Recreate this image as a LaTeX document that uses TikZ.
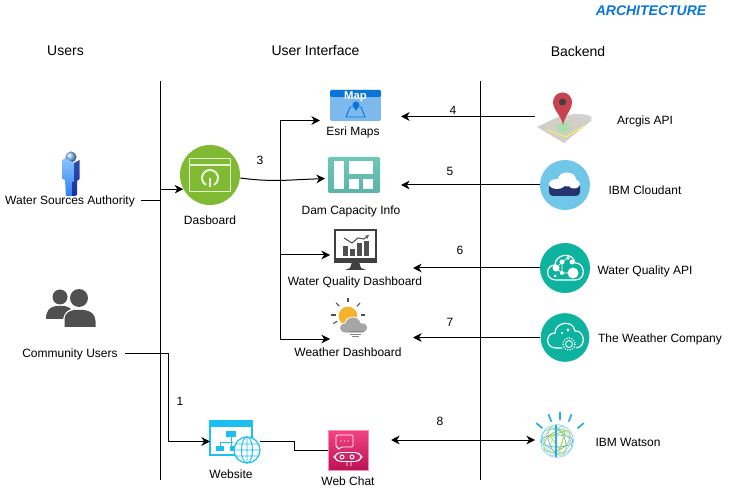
\documentclass[tikz,border=0pt]{standalone}
\usepackage{fontspec}
\setmainfont{Liberation Sans}
\usetikzlibrary{arrows.meta}
\usetikzlibrary{calc}
\definecolor{wqgreen}{HTML}{0DB39E}
\definecolor{dashgreen}{HTML}{7FBA32}
\definecolor{sitecyan}{HTML}{1CBFEF}
\definecolor{mapblue}{HTML}{0A75D8}
\definecolor{maplight}{HTML}{7DB9EC}
\definecolor{damteal}{HTML}{6FC7B8}
\definecolor{damdark}{HTML}{5BB5A6}
\definecolor{icongrey}{HTML}{505050}
\definecolor{cloudsky}{HTML}{71C7E8}
\definecolor{cloudnavy}{HTML}{25346F}
\definecolor{chattop}{HTML}{F34482}
\definecolor{chatbot}{HTML}{BC1356}
\definecolor{pinred}{HTML}{C8434F}
\definecolor{sunyellow}{HTML}{F5B32B}
\definecolor{watsonblue}{HTML}{2AAEE0}
\definecolor{watsongreen}{HTML}{7DBB6A}
\definecolor{facelight}{HTML}{8CC4FF}
\definecolor{facemid}{HTML}{2E7DF0}
\definecolor{sidedark}{HTML}{2A4FB0}
\definecolor{sidedeep}{HTML}{1A2F9A}
\tikzset{
  lbl/.style={font=\fontsize{9}{11}\selectfont,inner sep=0pt,text height=6.5pt,text depth=2pt,yshift=-1.5pt},
  head/.style={font=\fontsize{10.5}{12}\selectfont,inner sep=0pt},
  link/.style={line width=0.75pt},
  flow/.style={line width=0.75pt,-{Stealth[length=6.5pt,width=6.5pt]}},
  cloudline/.pic={\draw[white,line width=0.9pt] (-9,12) .. controls (-20,12) and (-20,-3) .. (-10,-3) .. controls (-10,-14) and (8,-17) .. (10,-5) .. controls (20,-6) and (22,12) .. (10,12) -- cycle;}
}
\begin{document}
\begin{tikzpicture}[x=0.75pt,y=-0.75pt]
\useasboundingbox (0,0) rectangle (731,491);
\draw [line width=0.75pt] (160.5,81) -- (160.5,480);
\draw [line width=0.75pt] (480.5,81) -- (480.5,480);
\node [font=\fontsize{10.5}{12}\selectfont\bfseries\itshape,text=mapblue,inner sep=0pt] (title) at (651,11) {ARCHITECTURE};
\node [head] (users) at (65.5,51) {Users};
\node [head] (ui) at (315.5,51) {User Interface};
\node [head] (backend) at (578,51) {Backend};
%
% users
\shade [ball color=facelight] (71,157) circle (5.5);
\shade [top color=facelight,bottom color=facemid] (62.5,160) -- (65,158) -- (74,163) -- (74,182) -- (72,182) -- (72,197) -- (66,197) -- (65,180) -- (62.5,179) -- cycle;
\shade [top color=sidedark,bottom color=sidedeep] (74,163) -- (79.5,160) -- (79.5,179) -- (77,181) -- (77,195) -- (72,197) -- (72,182) -- (74,182) -- cycle;
\node [lbl,fill=white] (authority) at (70,200) {Water Sources Authority};
\node [lbl] (community) at (70,353) {Community Users};
\fill [icongrey] (60,297) circle (7.5);
\fill [icongrey] (46,319) .. controls (46,310) and (50,307) .. (56,306) -- (65,306) .. controls (68,307) and (70,308) .. (71,309) .. controls (66,311) and (64,314) .. (63,319) -- cycle;
\fill [icongrey] (79,298) circle (9);
\fill [icongrey] (64.5,327) -- (64.5,319) .. controls (65,313) and (69,311) .. (74,310) -- (84,310) .. controls (91,311) and (95,314) .. (95.5,321) -- (95.5,327) -- cycle;
%
% user interface
\node [circle,fill=dashgreen,minimum size=45pt,inner sep=0pt] (dash) at (210,175) {};
\draw [white!80!dashgreen,line width=0.9pt] (189.5,158.5) rectangle (230.5,191.5);
\draw [white!80!dashgreen,line width=0.9pt] (189.5,165) -- (230.5,165);
\draw [white!85!dashgreen,line width=1.5pt] (210,178) ++(120:8) arc (120:420:8);
\draw [white!85!dashgreen,line width=1.5pt] (210,178) -- (210,187);
\node [lbl] (dashlbl) at (210,220) {Dasboard};
%
\node [fill=maplight,rounded corners=1pt,minimum width=38pt,minimum height=23.25pt,inner sep=0pt] (esri) at (355.5,105.5) {};
\fill [mapblue,rounded corners=1pt] (330,90) rectangle (381,97);
\node [font=\fontsize{8.5}{9}\selectfont\bfseries,text=white,inner sep=0pt] (maptxt) at (355.5,97) {Map};
\draw [mapblue,line width=0.7pt] (346,117) -- (350,107) -- (361,107) -- (365,117) -- cycle;
\fill [mapblue] (356,111) -- (352.5,105) arc (180:360:3.5) -- cycle;
\node [lbl] (esrilbl) at (353,131) {Esri Maps};
%
\node [shade,top color=damteal,bottom color=damdark,rounded corners=1pt,minimum width=39pt,minimum height=27pt,inner sep=0pt] (dam) at (354,175) {};
\fill [white] (334,161) rectangle (344,189);
\fill [white] (349,161) rectangle (373,174);
\fill [white] (349,179) rectangle (359,189);
\fill [white] (363,179) rectangle (373,189);
\node [lbl] (damlbl) at (351,210) {Dam Capacity Info};
%
\node [draw=icongrey!80!black,line width=1.4pt,minimum width=31pt,minimum height=24pt,inner sep=0pt] (wq) at (355.5,246) {};
\fill [icongrey!80!black] (334,258) rectangle (377,262);
\fill [icongrey!80!black] (352,262) -- (359,262) -- (361,268) -- (366,270) -- (345,270) -- (350,268) -- cycle;
\fill [icongrey] (343,246) rectangle (348,256);
\fill [icongrey] (350,249) rectangle (355,256);
\fill [icongrey] (357,243) rectangle (362,256);
\fill [icongrey] (364,241) rectangle (369,256);
\draw [icongrey,line width=0.8pt,-{Stealth[length=3pt,width=3pt]}] (344,238) -- (352,243) -- (358,238) -- (364,239) -- (369,235);
\node [lbl] (wqlbl) at (355,281) {Water Quality Dashboard};
%
\foreach \a in {-90,-135,-45,180,0,150} {
  \draw [icongrey,line width=0.8pt] ($(348,315)+(\a:12.5)$) -- ($(348,315)+(\a:17)$);
}
\node [circle,fill=sunyellow,minimum size=14pt,inner sep=0pt] (sun) at (348,316) {};
\fill [gray!70,draw=white,line width=0.6pt] (346,333) .. controls (337,333) and (338,323) .. (345,323) .. controls (347,315) and (359,315) .. (361,323) .. controls (370,322) and (370,333) .. (361,333) -- cycle;
\draw [icongrey!70,line width=0.6pt] (349,331) -- (364,331) (350,334) -- (361,334) (352,336.5) -- (359,336.5);
\node [lbl] (weatherlbl) at (348,351) {Weather Dashboard};
%
\node [draw=sitecyan,line width=1pt,minimum width=31.5pt,minimum height=26pt,inner sep=0pt] (site) at (231,437.5) {};
\fill [sitecyan] (210,420) rectangle (252,427);
\fill [sitecyan] (226,431) rectangle (236,437);
\fill [sitecyan] (216,446) rectangle (224,451);
\fill [sitecyan] (230,446) rectangle (236,451);
\draw [sitecyan,line width=0.7pt] (231,437) -- (231,446) (220,446) -- (220,442) -- (233,442);
\node [circle,draw=sitecyan,fill=white,line width=0.9pt,minimum size=19.5pt,inner sep=0pt] (globe) at (247,450) {};
\draw [sitecyan,line width=0.7pt] (247,450) ellipse (5.5 and 13) (234,450) -- (260,450) (236,444) -- (258,444) (236,456) -- (258,456) (247,437) -- (247,463);
\node [lbl] (sitelbl) at (231,473) {Website};
%
\node [shade,top color=chattop,bottom color=chatbot,draw=chattop!60!white,line width=0.5pt,minimum size=30pt,inner sep=0pt] (chat) at (348,450) {};
\draw [white,line width=0.7pt,rounded corners=1pt] (336,435) -- (353,435) -- (353,447) -- (341,447) -- (338,450) -- (338,447) -- (336,447) -- cycle;
\draw [white,line width=0.7pt,rounded corners=2.5pt] (334,457) -- (338,452.5) -- (358,452.5) -- (362,457) -- (358,461.5) -- (338,461.5) -- cycle;
\draw [white,line width=0.7pt] (342,457) circle (2) (352,457) circle (2) (347,461.5) -- (347,466) (351,461.5) -- (351,466);
\fill [white] (341,441) circle (0.7) (344.5,441) circle (0.7) (348,441) circle (0.7);
\node [lbl] (chatlbl) at (348,480) {Web Chat};
%
% backend
\fill [gray!35] (578,118) ellipse (14 and 4);
\fill [gray!35!yellow!8!white!80!black] (537,127) -- (560,116) -- (592,120) -- (564,143) -- cycle;
\fill [green!45!gray!45] (555,125) -- (565,122) -- (572,128) -- (562,134) -- cycle;
\draw [yellow!70!white,line width=0.6pt] (547,130) -- (566,137) -- (584,126);
\fill [pinred] (553,102) arc (180:360:9.5) .. controls (572,110) and (565,115) .. (563,125) .. controls (561,115) and (553,110) .. (553,102) -- cycle;
\fill [black!75] (562.5,102) circle (3.5);
\node [lbl] (arcgislbl) at (645,120) {Arcgis API};
%
\node [circle,fill=cloudsky,minimum size=37.5pt,inner sep=0pt] (cloudant) at (565,185) {};
\fill [cloudnavy,rounded corners=3pt] (549,183) rectangle (580,196);
\fill [white] (557,184) ellipse (8 and 5) (567,179.5) ellipse (9 and 7) (574,184) ellipse (6 and 4.5);
\node [lbl] (cloudantlbl) at (645,190) {IBM Cloudant};
%
\node [circle,fill=wqgreen,minimum size=37.5pt,inner sep=0pt] (wqapi) at (565,268) {};
\pic at (565,268) {cloudline};
\fill [white] (573,273) circle (5.5) (562,273) circle (2) (556,268) circle (3.5) (562,262) circle (2.5) (568,258) circle (1.8) (572,262) circle (2.5) (555,276) circle (1.5);
\draw [white,line width=0.5pt] (556,268) -- (562,262) -- (568,258) (562,262) -- (562,273) -- (573,273) (556,268) -- (562,273);
\node [lbl] (wqapilbl) at (645,270) {Water Quality API};
%
\node [circle,fill=wqgreen,minimum size=36.5pt,inner sep=0pt] (twc) at (565,337.5) {};
\pic at (565,336) {cloudline};
\node [circle,fill=wqgreen,minimum size=12pt,inner sep=0pt] (gearbg) at (569,344) {};
\draw [white,line width=0.9pt,densely dotted] (569,344) circle (6);
\draw [white,line width=0.7pt] (569,344) circle (3.5);
\fill [white] (562,333) circle (1.2) (568,330) circle (1.6);
\node [lbl] (twclbl) at (660,337) {The Weather Company};
%
\foreach \a/\rx/\ry/\c in {0/16/6/watsonblue,35/15/9/watsongreen,70/16/5/watsonblue!50,110/15/8/watsongreen,150/16/10/watsonblue!60,20/13/13/watsongreen!60} {
  \draw [\c,line width=0.5pt,rotate around={\a:(557,441)}] (557,441) ellipse [x radius=\rx,y radius=\ry];
}
\draw [yellow!70!green,line width=0.6pt] (550,436) -- (565,431) -- (560,450) -- cycle;
\node [circle,draw=watsonblue!60,line width=0.5pt,minimum size=24.5pt,inner sep=0pt] (watson) at (557,441) {};
\draw [watsonblue,line width=0.8pt] (556,425) -- (556,457);
\fill [watsonblue] (556,440) circle (1.3);
\foreach \a in {-140,-112,-90,-68,-40} {
  \draw [watsonblue,line width=1.3pt] ($(560,443)+(\a:23)$) -- ($(560,443)+(\a:31)$);
}
\node [lbl] (watsonlbl) at (628,441) {IBM Watson};
%
% connectors
\coordinate (authout) at (141,200.5);
\coordinate (authbend) at (160.5,200.5);
\coordinate (bus) at (280.5,180.5);
\coordinate (esriin) at (320,120.5);
\coordinate (damin) at (325,178.5);
\coordinate (wqin) at (330,255);
\coordinate (weatherin) at (330,339);
\coordinate (arcgisout) at (535,116.5);
\coordinate (esriport) at (401,116.5);
\coordinate (damport) at (401,185);
\coordinate (wqport) at (413,268);
\coordinate (weatherport) at (413,337.5);
\coordinate (chatport) at (391,440);
\coordinate (watsonport) at (535,440);
\coordinate (commout) at (125,353);
\coordinate (commbend) at (168.5,353);
\coordinate (sitein) at (210,441.5);
\coordinate (siteout) at (260,441.5);
\coordinate (chatin) at (328,450.5);
\draw [flow] (authout) -- (authbend) |- (dash.208);
\draw [flow] (dash.east) ++(0,3) .. controls (255,180) and (265,180.5) .. (bus) -- (damin);
\draw [flow] (bus) |- (esriin);
\draw [flow] (bus) |- (wqin);
\draw [flow] (bus) |- (weatherin);
\draw [flow] (arcgisout) -- (esriport);
\draw [flow] (cloudant) -- (damport);
\draw [flow] (wqapi) -- (wqport);
\draw [flow] (twc) -- (weatherport);
\draw [line width=0.75pt,{Stealth[length=6.5pt,width=6.5pt]}-{Stealth[length=6.5pt,width=6.5pt]}] (chatport) -- (watsonport);
\draw [flow] (commout) -- (commbend) |- (sitein);
\draw [link] (siteout) -- (294,441.5) |- (chatin);
\node [lbl] (n1) at (180,400) {1};
\node [lbl] (n3) at (260,160) {3};
\node [lbl] (n4) at (453,110) {4};
\node [lbl] (n5) at (450,171) {5};
\node [lbl] (n6) at (460,250) {6};
\node [lbl] (n7) at (450,321) {7};
\node [lbl] (n8) at (440,420) {8};
\end{tikzpicture}
\end{document}
